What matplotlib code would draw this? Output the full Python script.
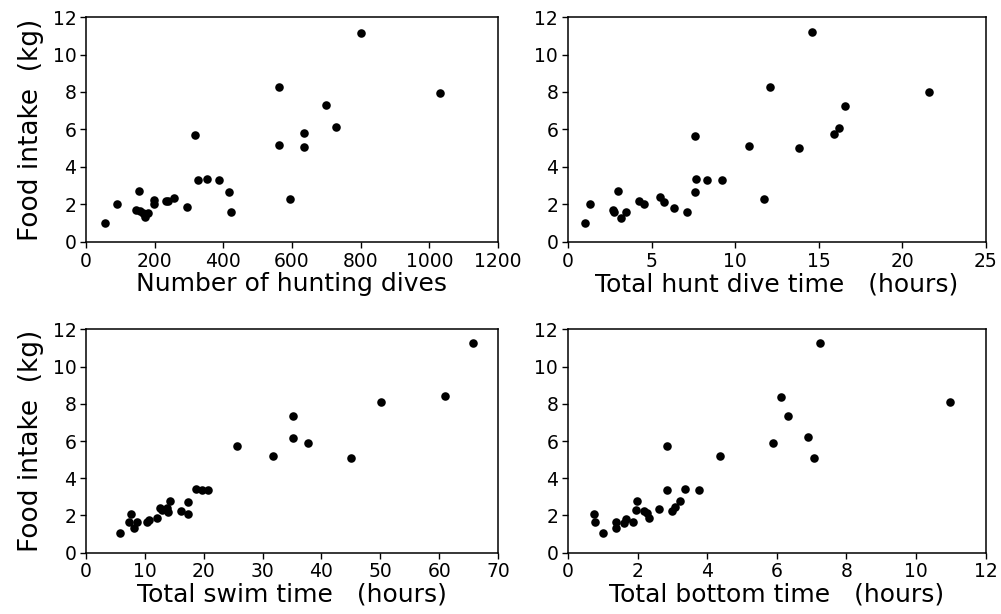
#!/usr/bin/env python3
# Food intake vs. dive/swim measures, four scatter panels
import matplotlib
matplotlib.use('Agg')
import matplotlib.pyplot as plt

# panel a: number of hunting dives
dives_x = [55, 89, 155, 146, 157, 167, 172, 180, 198, 198, 232, 240, 256, 294,
           317, 326, 353, 387, 416, 422, 563, 563, 594, 634, 636, 700, 728, 800, 1032]
dives_y = [1.03, 2.03, 2.74, 1.69, 1.64, 1.55, 1.33, 1.55, 2.26, 2.04, 2.17, 2.17, 2.35, 1.87,
           5.69, 3.31, 3.38, 3.31, 2.65, 1.58, 8.28, 5.16, 2.29, 5.81, 5.05, 7.29, 6.12, 11.17, 7.97]

# panel b: total hunt dive time (hours)
hunt_x = [1.04, 1.34, 2.68, 2.76, 2.98, 3.19, 3.49, 4.27, 4.57, 5.53, 5.73, 6.33, 7.15, 7.63,
          7.63, 7.69, 8.35, 9.23, 10.82, 11.72, 12.12, 13.84, 14.58, 15.95, 16.25, 16.59, 21.58]
hunt_y = [1.01, 2.03, 1.69, 1.58, 2.70, 1.30, 1.58, 2.19, 2.03, 2.38, 2.15, 1.83, 1.60, 5.65,
          2.68, 3.36, 3.31, 3.31, 5.12, 2.28, 8.28, 5.03, 11.18, 5.78, 6.10, 7.27, 8.00]

# panel c: total swim time (hours)
swim_x = [5.73, 7.65, 7.37, 8.11, 8.62, 10.37, 10.71, 12.07, 12.59, 12.98, 13.72, 14.0, 14.34,
          16.10, 17.29, 17.29, 18.71, 19.73, 20.75, 25.74, 31.69, 35.15, 35.09, 37.64, 45.07,
          50.17, 61.05, 65.70]
swim_y = [1.04, 2.10, 1.63, 1.33, 1.65, 1.67, 1.77, 1.88, 2.40, 2.29, 2.38, 2.20, 2.76,
          2.22, 2.72, 2.08, 3.42, 3.39, 3.39, 5.73, 5.21, 7.34, 6.16, 5.87, 5.10,
          8.08, 8.40, 11.27]

# panel d: total bottom time (hours)
bottom_x = [0.75, 0.78, 1.0, 1.39, 1.39, 1.62, 1.68, 1.88, 1.97, 1.96, 2.18, 2.26, 2.33, 2.61,
            2.84, 2.84, 3.0, 3.08, 3.23, 3.35, 3.77, 4.36, 5.90, 6.11, 6.32, 6.89, 7.06, 7.23, 10.97]
bottom_y = [2.10, 1.65, 1.04, 1.63, 1.35, 1.60, 1.79, 1.65, 2.80, 2.30, 2.22, 2.13, 1.88, 2.33,
            5.74, 3.39, 2.22, 2.45, 2.76, 3.43, 3.39, 5.22, 5.88, 8.39, 7.35, 6.19, 5.11, 11.26, 8.11]

panels = [
    (dives_x, dives_y, [0.0859, 0.6059, 0.4116, 0.3664], 1200, 200,
     'Number of hunting dives', True),
    (hunt_x, hunt_y, [0.5674, 0.6059, 0.4173, 0.3664], 25, 5,
     'Total hunt dive time   (hours)', False),
    (swim_x, swim_y, [0.0859, 0.0998, 0.4116, 0.3639], 70, 10,
     'Total swim time   (hours)', True),
    (bottom_x, bottom_y, [0.5674, 0.0998, 0.4173, 0.3639], 12, 2,
     'Total bottom time   (hours)', False),
]

fig = plt.figure(figsize=(10.01, 6.14), dpi=100)

for x, y, rect, xmax, xstep, xlabel, ylab in panels:
    ax = fig.add_axes(rect)
    ax.scatter(x, y, s=38, color='black', linewidths=0, zorder=3)
    ax.set_xlim(0, xmax)
    ax.set_ylim(0, 12)
    ax.set_xticks(range(0, xmax + 1, xstep))
    ax.set_yticks(range(0, 13, 2))
    ax.tick_params(direction='out', length=4, width=1, labelsize=13.5, pad=3)
    for s in ax.spines.values():
        s.set_linewidth(1.1)
    ax.set_xlabel(xlabel, fontsize=18, labelpad=1)
    if ylab:
        ax.set_ylabel('Food intake  (kg)', fontsize=19, labelpad=6)

fig.savefig('out.png', dpi=100)
